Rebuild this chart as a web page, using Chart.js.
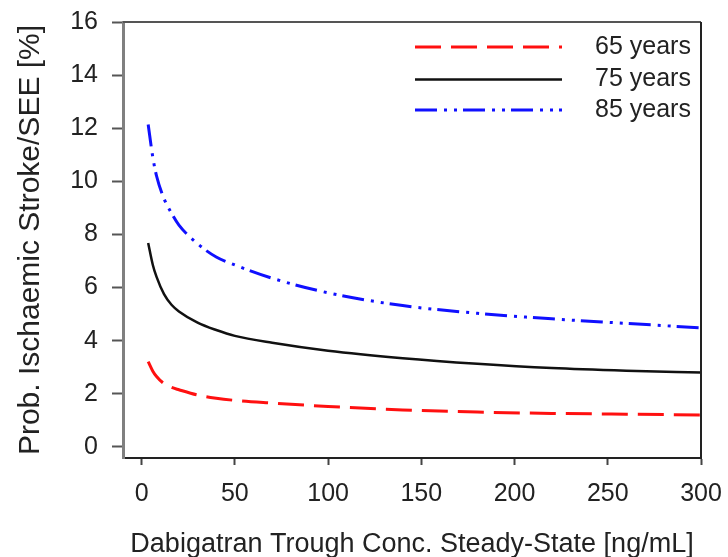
<!DOCTYPE html>
<html>
<head>
<meta charset="utf-8">
<script src="https://cdn.jsdelivr.net/npm/chart.js@4"></script>
<style>
  body { margin: 0; background: #fff; }
  #wrap { width: 728px; height: 557px; }
</style>
</head>
<body>
<div id="wrap"><canvas id="chart"></canvas></div>
<script>
// data
const conc = [3.5, 6, 8, 12, 16, 20, 30, 40, 50, 70, 100, 140, 180, 220, 260, 300];
const age65 = [3.21, 2.85, 2.65, 2.38, 2.24, 2.15, 1.95, 1.83, 1.75, 1.65, 1.52, 1.39, 1.31, 1.26, 1.23, 1.2];
const age75 = [7.68, 6.85, 6.4, 5.75, 5.35, 5.1, 4.68, 4.4, 4.18, 3.92, 3.62, 3.34, 3.13, 2.97, 2.87, 2.8];
const age85 = [12.14, 10.9, 10.2, 9.35, 8.8, 8.35, 7.65, 7.15, 6.85, 6.35, 5.8, 5.32, 5.03, 4.82, 4.65, 4.48];
const seriesLabels = ["65 years", "75 years", "85 years"];
const xTicks = [0, 50, 100, 150, 200, 250, 300];
const yTicks = [0, 2, 4, 6, 8, 10, 12, 14, 16];

const font = "'Liberation Sans', Arial, sans-serif";
const textColor = "#222";

function toPoints(values) {
  return values.map((v, i) => ({ x: conc[i], y: v }));
}

// frame around plot + legend inside top right
const framePlugin = {
  id: "frame",
  afterDraw(chart) {
    const ctx = chart.ctx;
    const a = chart.chartArea;
    ctx.save();
    ctx.lineWidth = 2;
    ctx.strokeStyle = "#555";
    ctx.beginPath();
    ctx.moveTo(a.left, a.top);
    ctx.lineTo(a.right, a.top);
    ctx.stroke();
    ctx.strokeStyle = "#222";
    ctx.beginPath();
    ctx.moveTo(a.right, a.top);
    ctx.lineTo(a.right, a.bottom);
    ctx.stroke();

    // legend
    const x0 = 415, x1 = 562, tx = 595;
    const rows = [47, 79.5, 110];
    chart.data.datasets.forEach((ds, i) => {
      ctx.beginPath();
      ctx.setLineDash(ds.borderDash || []);
      ctx.lineWidth = ds.borderWidth;
      ctx.strokeStyle = ds.borderColor;
      ctx.moveTo(x0, rows[i]);
      ctx.lineTo(x1, rows[i]);
      ctx.stroke();
      ctx.setLineDash([]);
      ctx.fillStyle = textColor;
      ctx.font = "25px " + font;
      ctx.textBaseline = "middle";
      ctx.fillText(ds.label, tx, rows[i]);
    });
    ctx.restore();
  },
};

new Chart(document.getElementById("chart").getContext("2d"), {
  type: "line",
  data: {
    datasets: [
      {
        label: seriesLabels[0],
        data: toPoints(age65),
        borderColor: "#ff1010",
        borderWidth: 3,
        borderDash: [26, 10],
      },
      {
        label: seriesLabels[1],
        data: toPoints(age75),
        borderColor: "#111",
        borderWidth: 2.5,
      },
      {
        label: seriesLabels[2],
        data: toPoints(age85),
        borderColor: "#1010ff",
        borderWidth: 3,
        borderDash: [22, 7, 3, 7, 3, 6],
      },
    ],
  },
  options: {
    responsive: true,
    maintainAspectRatio: false,
    animation: false,
    cubicInterpolationMode: "monotone",
    pointRadius: 0,
    layout: { padding: { top: 22, right: 27, left: 0, bottom: 0 } },
    plugins: { legend: { display: false }, tooltip: { enabled: false } },
    scales: {
      x: {
        type: "linear",
        min: -10,
        max: 300,
        afterBuildTicks: (s) => { s.ticks = xTicks.map((v) => ({ value: v })); },
        afterFit: (s) => { s.height = 99; s.paddingLeft = 0; s.paddingRight = 0; },
        grid: { display: true, drawOnChartArea: false, drawTicks: true, tickLength: 7, color: "#444", tickWidth: 2 },
        border: { display: true, color: "#222", width: 2 },
        ticks: { color: textColor, font: { family: font, size: 25 }, padding: 14, maxRotation: 0 },
        title: {
          display: true,
          text: "Dabigatran Trough Conc. Steady-State [ng/mL]",
          color: textColor,
          font: { family: font, size: 27, lineHeight: 0.95 },
          padding: { top: 0, bottom: 0 },
        },
      },
      y: {
        type: "linear",
        min: -0.42,
        max: 16,
        afterBuildTicks: (s) => { s.ticks = yTicks.map((v) => ({ value: v })); },
        afterFit: (s) => { s.width = 123; s.paddingTop = 0; s.paddingBottom = 0; },
        grid: { display: true, drawOnChartArea: false, drawTicks: true, tickLength: 11, color: "#555", tickWidth: 2 },
        border: { display: true, color: "#808080", width: 3 },
        ticks: { color: textColor, font: { family: font, size: 25 }, padding: 14 },
        title: {
          display: true,
          text: "Prob. Ischaemic Stroke/SEE [%]",
          color: textColor,
          font: { family: font, size: 30, lineHeight: 1.2 },
          padding: { top: 13, bottom: 0 },
        },
      },
    },
  },
  plugins: [framePlugin],
});
</script>
</body>
</html>
